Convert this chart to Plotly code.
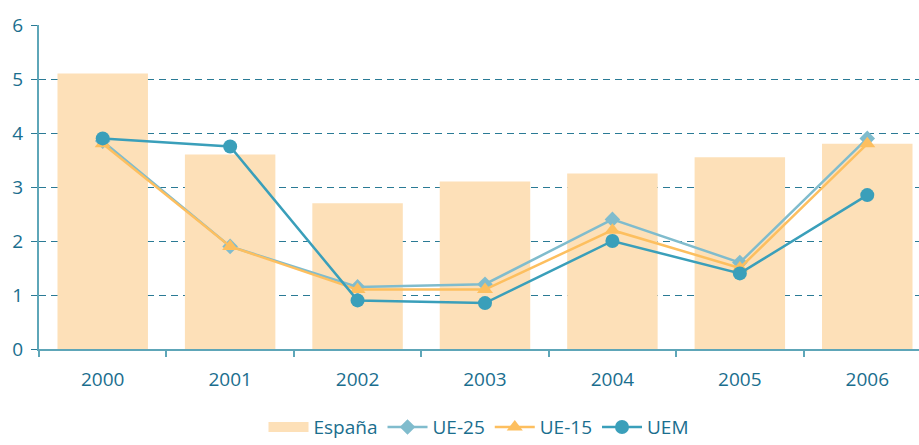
import plotly.graph_objects as go

years = ["2000", "2001", "2002", "2003", "2004", "2005", "2006"]
espana = [5.1, 3.6, 2.7, 3.1, 3.25, 3.55, 3.8]
ue25 = [3.85, 1.9, 1.15, 1.2, 2.4, 1.6, 3.9]
ue15 = [3.8, 1.9, 1.1, 1.1, 2.2, 1.5, 3.8]
uem = [3.9, 3.75, 0.9, 0.85, 2.0, 1.4, 2.85]
yticks = [0, 1, 2, 3, 4, 5, 6]

text_color = "#1a6e8e"
axis_color = "#5ea6b8"
bar_color = "#fde0b8"

fig = go.Figure()
fig.add_trace(go.Bar(x=years, y=espana, name="España", marker_color=bar_color,
                     marker_line_width=0, width=0.71, showlegend=False))
# legend proxy for the bar series (wide rectangle)
fig.add_trace(go.Scatter(x=[None], y=[None], name="España", mode="lines",
                         line=dict(color=bar_color, width=17)))
fig.add_trace(go.Scatter(x=years, y=ue25, name="UE-25", mode="lines+markers",
                         line=dict(color="#80bccd", width=2.5),
                         marker=dict(symbol="diamond", size=12, color="#80bccd")))
fig.add_trace(go.Scatter(x=years, y=ue15, name="UE-15", mode="lines+markers",
                         line=dict(color="#fdbf5f", width=2.5),
                         marker=dict(symbol="triangle-up", size=14, color="#fdbf5f")))
fig.add_trace(go.Scatter(x=years, y=uem, name="UEM", mode="lines+markers",
                         line=dict(color="#3a9fba", width=2.5),
                         marker=dict(symbol="circle", size=14, color="#3a9fba")))

fig.update_layout(
    width=919, height=445,
    margin=dict(l=39, r=0, t=25, b=96),
    plot_bgcolor="white", paper_bgcolor="white",
    font=dict(family="Open Sans", color=text_color, size=19),
    showlegend=True,
    legend=dict(orientation="h", x=0.5, xanchor="center",
                yref="container", y=0.04, yanchor="middle",
                font=dict(size=19, color=text_color), itemwidth=40,
                traceorder="normal"),
    xaxis=dict(type="category", range=[-0.5, 6.406], showline=True, linecolor=axis_color,
               linewidth=2, ticks="outside", tickson="boundaries", ticklen=6,
               tickcolor=axis_color, tickwidth=2, showgrid=False, automargin=False,
               ticklabelstandoff=12,
               tickfont=dict(size=19, color=text_color)),
    yaxis=dict(range=[0, 6], tickvals=yticks, showline=True, linecolor=axis_color,
               linewidth=2, ticks="outside", ticklen=6, tickcolor="#2a7a95",
               showgrid=True, gridcolor="#2a7a95", griddash="7px,5px", gridwidth=1.2,
               zeroline=False, automargin=False, ticklabelstandoff=4,
               tickfont=dict(size=19, color=text_color)),
)
fig.write_html(
    "out.html",
    config={"displayModeBar": False},
    post_script="document.body.style.margin='0';document.body.style.overflow='hidden';",
)
